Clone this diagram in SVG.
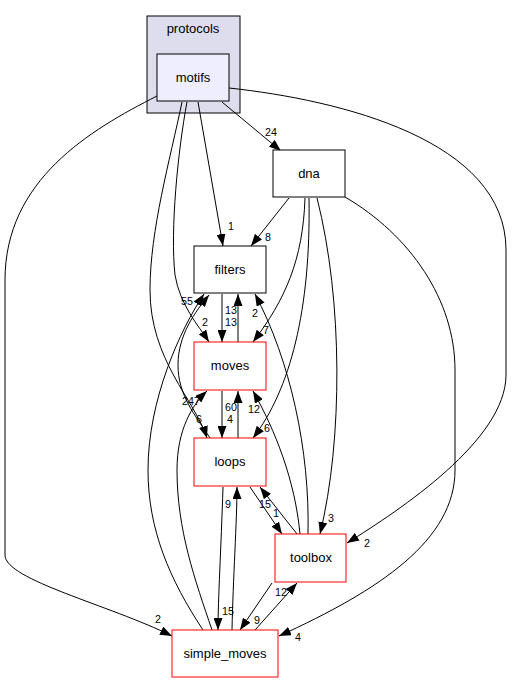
<svg xmlns="http://www.w3.org/2000/svg" width="512" height="684" viewBox="0 0 512 684">
<style>
.n{font-family:"Liberation Sans",Arial,sans-serif;font-size:13px;text-anchor:middle;fill:#000}
.l{font-family:"Liberation Sans",Arial,sans-serif;font-size:10.7px;text-anchor:middle;fill:#000}
.e{fill:none;stroke:#000;stroke-width:1}
.box{fill:#fff;stroke:#000;stroke-width:1}
.red{fill:#fff;stroke:#ff0000;stroke-width:1}
</style>
<defs>
<marker id="a" viewBox="0 0 12 9" refX="12" refY="4.5" markerWidth="12" markerHeight="9" markerUnits="userSpaceOnUse" orient="auto">
<path d="M0,0 L12,4.5 L0,9 z" fill="#000"/>
</marker>
</defs>
<rect width="512" height="684" fill="#fff"/>
<g id="cluster_protocols">
<rect x="147" y="16" width="93" height="97" fill="#ddddee" stroke="#000"/>
<text class="n" x="193" y="33">protocols</text>
</g>
<g id="edges">
<path class="e" marker-end="url(#a)" d="M222,102 L281,151"/>
<path class="e" marker-end="url(#a)" d="M198,102 L223,246"/>
<path class="e" marker-end="url(#a)" d="M187,102 C178,150 170,230 175,275 C180,305 198,325 209,342"/>
<path class="e" marker-end="url(#a)" d="M182,102 C170,160 150,230 150,290 C150,360 195,400 207,438"/>
<path class="e" marker-end="url(#a)" d="M157,96 C90,130 5,180 5,280 L5,555 C5,580 110,605 172,636"/>
<path class="e" marker-end="url(#a)" d="M229,88 C340,100 506,140 506,250 L506,375 C506,440 400,510 347,543"/>
<path class="e" marker-end="url(#a)" d="M289,198 L251,246"/>
<path class="e" marker-end="url(#a)" d="M305,198 C303,260 285,300 253,342"/>
<path class="e" marker-end="url(#a)" d="M309,198 C311,310 290,390 253,438"/>
<path class="e" marker-end="url(#a)" d="M317,198 C343,300 343,440 320,534"/>
<path class="e" marker-end="url(#a)" d="M345,197 C410,235 455,300 455,370 L455,470 C455,540 380,590 279,636"/>
<path class="e" marker-end="url(#a)" d="M308,534 C310,450 290,360 255,294"/>
<path class="e" marker-end="url(#a)" d="M300,534 C295,480 275,430 253,391"/>
<path class="e" marker-end="url(#a)" d="M297,534 L260,487"/>
<path class="e" marker-end="url(#a)" d="M250,487 L282,534"/>
<path class="e" marker-end="url(#a)" d="M222,294 L222,342"/>
<path class="e" marker-end="url(#a)" d="M238,342 L238,294"/>
<path class="e" marker-end="url(#a)" d="M222,391 L222,438"/>
<path class="e" marker-end="url(#a)" d="M238,438 L238,391"/>
<path class="e" marker-end="url(#a)" d="M223,487 C221,550 218,600 218,630"/>
<path class="e" marker-end="url(#a)" d="M232,630 C233,580 237,520 237,487"/>
<path class="e" marker-end="url(#a)" d="M272,583 L240,630"/>
<path class="e" marker-end="url(#a)" d="M255,630 L297,583"/>
<path class="e" marker-end="url(#a)" d="M203,630 C170,580 148,530 148,470 C148,400 180,330 204,294"/>
<path class="e" marker-end="url(#a)" d="M212,630 C195,580 177,530 177,470 C177,430 192,405 207,391"/>
<path class="e" marker-end="url(#a)" d="M210,438 C195,415 178,395 178,365 C178,335 195,312 209,295"/>
<text class="l" x="271" y="136">24</text>
<text class="l" x="231" y="230">1</text>
<text class="l" x="268" y="241">8</text>
<text class="l" x="187" y="305">55</text>
<text class="l" x="205" y="326">2</text>
<text class="l" x="231" y="314">13</text>
<text class="l" x="231" y="326">13</text>
<text class="l" x="255" y="317">2</text>
<text class="l" x="266" y="334">7</text>
<text class="l" x="191" y="405">247</text>
<text class="l" x="199" y="423">6</text>
<text class="l" x="231" y="411">60</text>
<text class="l" x="230" y="423">4</text>
<text class="l" x="254" y="413">12</text>
<text class="l" x="267" y="432">6</text>
<text class="l" x="228" y="508">9</text>
<text class="l" x="265" y="508">15</text>
<text class="l" x="276" y="517">1</text>
<text class="l" x="331" y="522">3</text>
<text class="l" x="367" y="547">2</text>
<text class="l" x="281" y="596">12</text>
<text class="l" x="228" y="615">15</text>
<text class="l" x="158" y="623">2</text>
<text class="l" x="257" y="624">9</text>
<text class="l" x="298" y="641">4</text>
</g>
<g id="motifs">
<rect x="157" y="54" width="72" height="47" fill="#eeeeff" stroke="#000"/>
<text class="n" x="193" y="82">motifs</text>
</g>
<g id="dna">
<rect class="box" x="273" y="150" width="72" height="47"/>
<text class="n" x="309" y="178">dna</text>
</g>
<g id="filters">
<rect class="box" x="194" y="246" width="72" height="47"/>
<text class="n" x="230" y="274">filters</text>
</g>
<g id="moves">
<rect class="red" x="194" y="342" width="72" height="48"/>
<text class="n" x="230" y="370">moves</text>
</g>
<g id="loops">
<rect class="red" x="194" y="438" width="72" height="48"/>
<text class="n" x="230" y="466">loops</text>
</g>
<g id="toolbox">
<rect class="red" x="275" y="534" width="71" height="48"/>
<text class="n" x="311" y="562">toolbox</text>
</g>
<g id="simple_moves">
<rect class="red" x="172" y="630" width="106" height="47"/>
<text class="n" x="225" y="658">simple_moves</text>
</g>
</svg>
